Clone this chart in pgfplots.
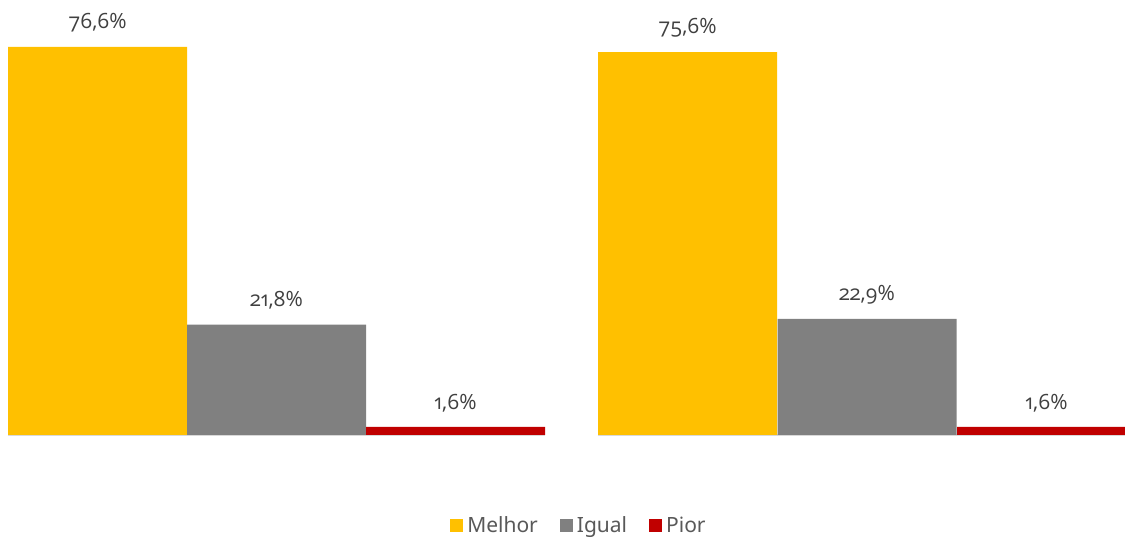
\documentclass[border=0pt]{standalone}
\usepackage{fontspec}
\setmainfont{Noto Sans}
\newfontfamily\labfont{Open Sans}[RawFeature=+onum]
\usepackage{pgfplots}
\pgfplotsset{compat=1.18}
\definecolor{cy}{HTML}{FFC000}
\definecolor{cg}{HTML}{808080}
\definecolor{cr}{HTML}{C00000}
\definecolor{labelc}{HTML}{404040}
\definecolor{legc}{HTML}{595959}
\definecolor{basec}{HTML}{D9D9D9}
\begin{document}
\begin{tikzpicture}
\begin{axis}[
  scale only axis, width=562.5pt, height=271pt,
  xmin=0, xmax=1125, ymin=-21.13, ymax=85.88,
  axis line style={draw=none}, ticks=none,
  ybar, bar width=179,
  point meta=explicit symbolic,
  nodes near coords={\pgfplotspointmeta\%},
  nodes near coords style={font=\labfont\fontsize{10.5}{12}\selectfont, text=labelc, anchor=south, yshift=4pt},
  legend columns=3,
  legend style={draw=none, fill=none, at={(rel axis cs:0.5155,0.0295)}, anchor=center,
    font=\fontsize{10.5}{13}\selectfont, text=legc,
    /tikz/every even column/.append style={column sep=9pt}},
  legend image code/.code={\fill[#1] (0pt,-3pt) rectangle (6.5pt,3.5pt);},
]
\draw[draw=none] (rel axis cs:0,0) rectangle (rel axis cs:1,1);
\draw[basec, line width=0.75pt] (axis cs:8,0) -- (axis cs:545,0);
\draw[basec, line width=0.75pt] (axis cs:598,0) -- (axis cs:1125,0);
\addplot[fill=cy, draw=none, bar shift=0pt] table[meta=l] {
x y l
97.5 76.6 76,6
687.5 75.6 75,6
};
\addplot[fill=cg, draw=none, bar shift=0pt] table[meta=l] {
x y l
276.5 21.8 21,8
867 22.9 22,9
};
\addplot[fill=cr, draw=none, bar shift=0pt] table[meta=l] {
x y l
455.5 1.6 1,6
1046.5 1.6 1,6
};
\legend{Melhor, Igual, Pior}
\end{axis}
\end{tikzpicture}
\end{document}
